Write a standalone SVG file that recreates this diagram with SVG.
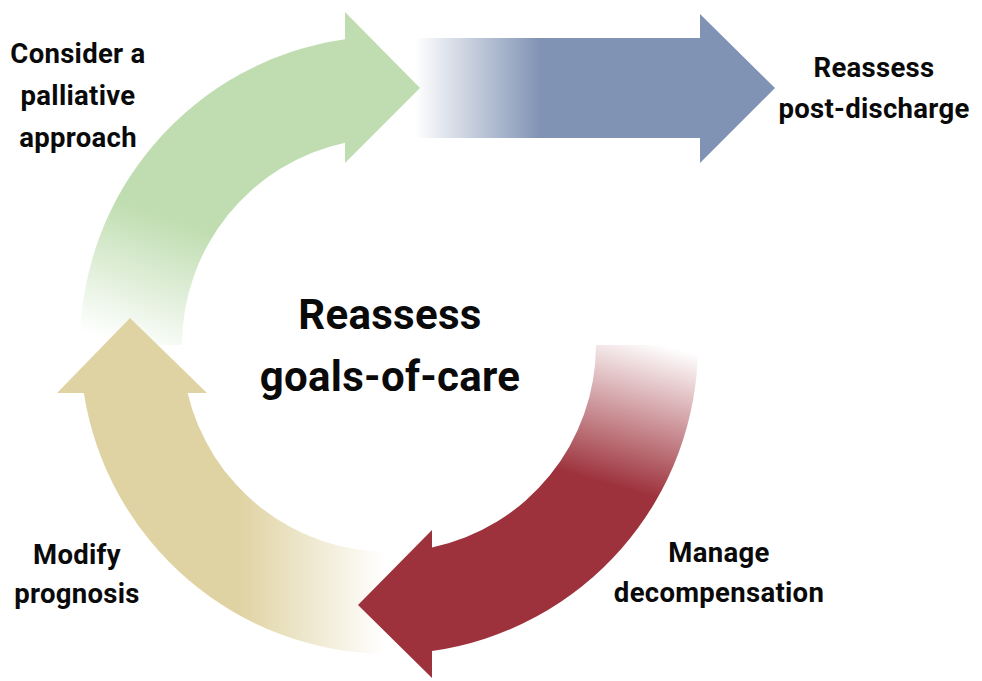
<svg xmlns="http://www.w3.org/2000/svg" width="982" height="681" viewBox="0 0 982 681">
  <style>
    .lbl { font-family: Roboto, "Liberation Sans", Arial, sans-serif; font-weight: bold; font-size: 27.5px; letter-spacing: 0.3px; fill: #0a0a0a; text-anchor: middle; }
    .ctr { font-family: Roboto, "Liberation Sans", Arial, sans-serif; font-weight: bold; font-size: 42px; letter-spacing: 0.3px; fill: #0a0a0a; text-anchor: middle; }
  </style>
  <defs>
    <linearGradient id="gBlue" gradientUnits="userSpaceOnUse" x1="415" y1="0" x2="540" y2="0">
      <stop offset="0" stop-color="#8193b4" stop-opacity="0"/>
      <stop offset="1" stop-color="#8193b4" stop-opacity="1"/>
    </linearGradient>
    <linearGradient id="gGreen" gradientUnits="userSpaceOnUse" x1="120" y1="345" x2="165" y2="215">
      <stop offset="0" stop-color="#bfddb0" stop-opacity="0"/>
      <stop offset="1" stop-color="#bfddb0" stop-opacity="1"/>
    </linearGradient>
    <linearGradient id="gTan" gradientUnits="userSpaceOnUse" x1="385" y1="0" x2="240" y2="0">
      <stop offset="0" stop-color="#e0d3a3" stop-opacity="0"/>
      <stop offset="1" stop-color="#e0d3a3" stop-opacity="1"/>
    </linearGradient>
    <linearGradient id="gRed" gradientUnits="userSpaceOnUse" x1="670" y1="347" x2="630" y2="490">
      <stop offset="0" stop-color="#9d323c" stop-opacity="0"/>
      <stop offset="1" stop-color="#9d323c" stop-opacity="1"/>
    </linearGradient>
  </defs>

  <g id="connectors">
    <path id="arrow-blue" d="M415,38 L700,38 L700,14 L775,88 L700,163 L700,138 L415,138 Z" fill="url(#gBlue)"/>
    <path id="arrow-green" d="M80,345 A309,309 0 0 1 345,39.2 L345,12 L420,88 L345,163 L345,142.7 A207,207 0 0 0 182,345 Z" fill="url(#gGreen)"/>
    <path id="arrow-tan" d="M389,654 A309,309 0 0 1 83.8,393 L57,393 L130,318 L207,393 L187.6,393 A207,207 0 0 0 389,552 Z" fill="url(#gTan)"/>
    <path id="arrow-red" d="M698,345 A309,309 0 0 1 432,651 L432,678 L358,605 L432,530 L432,547.5 A207,207 0 0 0 596,345 Z" fill="url(#gRed)"/>
  </g>

  <g id="node-center">
    <text class="ctr" x="390" y="329">Reassess</text>
    <text class="ctr" x="390" y="391">goals-of-care</text>
  </g>
  <g id="node-palliative">
    <text class="lbl" x="78" y="63">Consider a</text>
    <text class="lbl" x="78" y="105">palliative</text>
    <text class="lbl" x="78" y="147">approach</text>
  </g>
  <g id="node-postdischarge">
    <text class="lbl" x="874" y="77">Reassess</text>
    <text class="lbl" x="874" y="118">post-discharge</text>
  </g>
  <g id="node-prognosis">
    <text class="lbl" x="77" y="564">Modify</text>
    <text class="lbl" x="77" y="603">prognosis</text>
  </g>
  <g id="node-decompensation">
    <text class="lbl" x="719" y="562">Manage</text>
    <text class="lbl" x="719" y="602">decompensation</text>
  </g>
</svg>
